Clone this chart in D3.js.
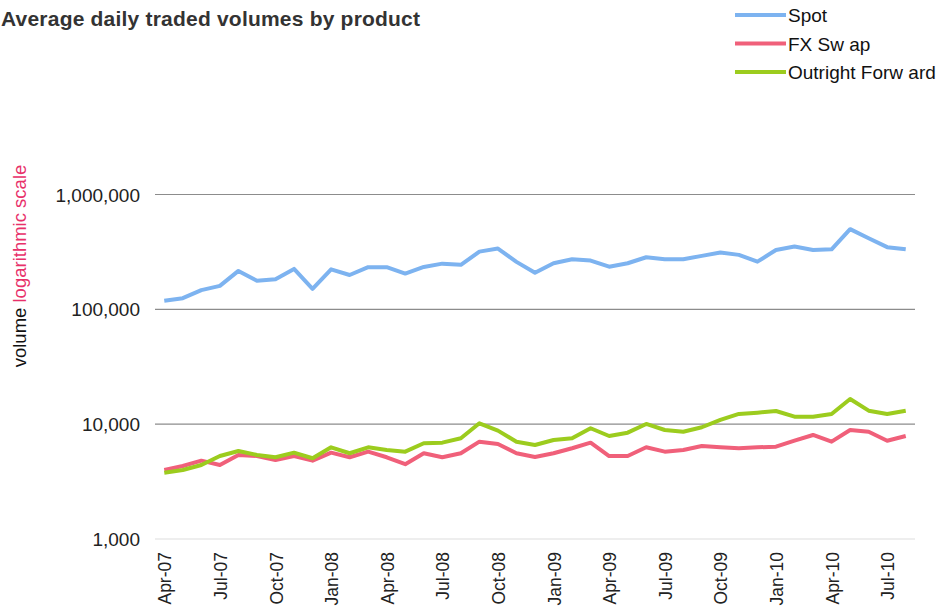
<!DOCTYPE html>
<html>
<head>
<meta charset="utf-8">
<script src="https://cdn.jsdelivr.net/npm/d3@7"></script>
<style>
  body { margin: 0; background: white; }
  text { font-family: "Liberation Sans", Arial, sans-serif; }
</style>
</head>
<body>
<svg width="947" height="616"></svg>
<script>
// data, one value per month Apr-07 .. Aug-10
const months = [
  'Apr-07','May-07','Jun-07','Jul-07','Aug-07','Sep-07','Oct-07','Nov-07','Dec-07',
  'Jan-08','Feb-08','Mar-08','Apr-08','May-08','Jun-08','Jul-08','Aug-08','Sep-08','Oct-08','Nov-08','Dec-08',
  'Jan-09','Feb-09','Mar-09','Apr-09','May-09','Jun-09','Jul-09','Aug-09','Sep-09','Oct-09','Nov-09','Dec-09',
  'Jan-10','Feb-10','Mar-10','Apr-10','May-10','Jun-10','Jul-10','Aug-10'
]
const tickLabels = ['Apr-07','Jul-07','Oct-07','Jan-08','Apr-08','Jul-08','Oct-08',
  'Jan-09','Apr-09','Jul-09','Oct-09','Jan-10','Apr-10','Jul-10']
const yTicks = [1000, 10000, 100000, 1000000]

const spot = [119000,125000,147000,160000,216000,177000,183000,225000,151000,223000,199000,233000,233000,205000,
  234000,250000,244000,318000,338000,259000,208000,252000,273000,266000,235000,252000,284000,273000,273000,
  292000,312000,298000,260000,329000,352000,329000,333000,499000,416000,348000,333000]
const fxSwap = [3990,4320,4810,4410,5390,5280,4880,5280,4810,5650,5150,5760,5150,4480,5580,5150,5580,7040,6720,
  5580,5180,5580,6170,6900,5280,5280,6290,5760,5960,6460,6290,6170,6290,6370,7180,8050,7040,8900,8600,7180,7890]
const outright = [3780,3990,4410,5280,5840,5390,5150,5650,5050,6290,5580,6290,5960,5760,6820,6900,7540,10180,8780,
  7040,6590,7280,7540,9210,7890,8430,10040,8900,8600,9400,10880,12270,12600,13030,11620,11620,12270,16580,13110,
  12270,13110]

const seriesNames = ['Spot', 'FX Sw ap', 'Outright Forw ard']
const seriesColors = ['#7db3f0', '#f0607a', '#9ccc1e']

;(function(d3){
    const svg = d3.select('svg')

    const plotLeft = 155, plotRight = 915

    const xScale = d3.scalePoint()
        .domain(months)
        .range([plotLeft, plotRight])
        .padding(0.5)

    const yScale = d3.scaleLog()
        .domain([1000, 1000000])
        .range([539, 194.5])

    // title
    svg.append('text')
        .attr('x', 1)
        .attr('y', 26)
        .attr('font-size', 21)
        .attr('font-weight', 'bold')
        .attr('fill', '#333')
        .attr('textLength', 419)
        .attr('lengthAdjust', 'spacing')
        .text('Average daily traded volumes by product')

    // y axis title, two colours
    const yTitle = svg.append('text')
        .attr('transform', 'translate(26, 266) rotate(-90)')
        .attr('text-anchor', 'middle')
        .attr('font-size', 18.5)
    yTitle.append('tspan').attr('fill', '#111').text('volume ')
    yTitle.append('tspan').attr('fill', '#e8306a').text('logarithmic scale')

    // grid lines
    const gridG = svg.append('g').attr('class', 'grid')
    gridG.selectAll('line')
        .data(yTicks)
        .enter()
        .append('line')
        .attr('x1', plotLeft)
        .attr('x2', plotRight)
        .attr('y1', d => yScale(d))
        .attr('y2', d => yScale(d))
        .attr('stroke', d => d === 1000 ? '#dddddd' : '#8c8c8c')
        .attr('stroke-width', 1.2)

    // y axis labels
    const yAxis = d3.axisLeft(yScale)
        .tickValues(yTicks)
        .tickFormat(d3.format(','))
        .tickSize(0)
        .tickPadding(0)
    const yAxisG = svg.append('g')
        .attr('transform', 'translate(140, 0)')
        .call(yAxis)
    yAxisG.select('.domain').remove()
    yAxisG.selectAll('text')
        .attr('font-size', 19)
        .attr('font-family', '"Liberation Sans", Arial, sans-serif')
        .attr('fill', '#222')
        .attr('dy', '0.35em')

    // x axis labels, rotated
    const xAxisG = svg.append('g').attr('class', 'x-axis')
    xAxisG.selectAll('text')
        .data(tickLabels)
        .enter()
        .append('text')
        .attr('transform', d => `translate(${xScale(d) + 1}, 552) rotate(-90)`)
        .attr('text-anchor', 'end')
        .attr('dy', '0.35em')
        .attr('font-size', 17.5)
        .attr('fill', '#222')
        .text(d => d)

    // lines
    const line = d3.line()
        .x((d, i) => xScale(months[i]))
        .y(d => yScale(d))

    const allSeries = [spot, fxSwap, outright]
    svg.append('g').selectAll('path')
        .data(allSeries)
        .enter()
        .append('path')
        .attr('d', line)
        .attr('fill', 'none')
        .attr('stroke', (d, i) => seriesColors[i])
        .attr('stroke-width', 4)
        .attr('stroke-linejoin', 'round')

    // legend
    const legendG = svg.append('g').attr('transform', 'translate(735, 15)')
    const legendItem = legendG.selectAll('g')
        .data(seriesNames)
        .enter()
        .append('g')
        .attr('transform', (d, i) => `translate(0, ${i * 28.5})`)
    legendItem.append('line')
        .attr('x1', 0)
        .attr('x2', 51)
        .attr('stroke', (d, i) => seriesColors[i])
        .attr('stroke-width', 4)
    legendItem.append('text')
        .attr('x', 53)
        .attr('dy', '0.38em')
        .attr('font-size', 19)
        .attr('fill', '#111')
        .text(d => d)

}(d3))
</script>
</body>
</html>
